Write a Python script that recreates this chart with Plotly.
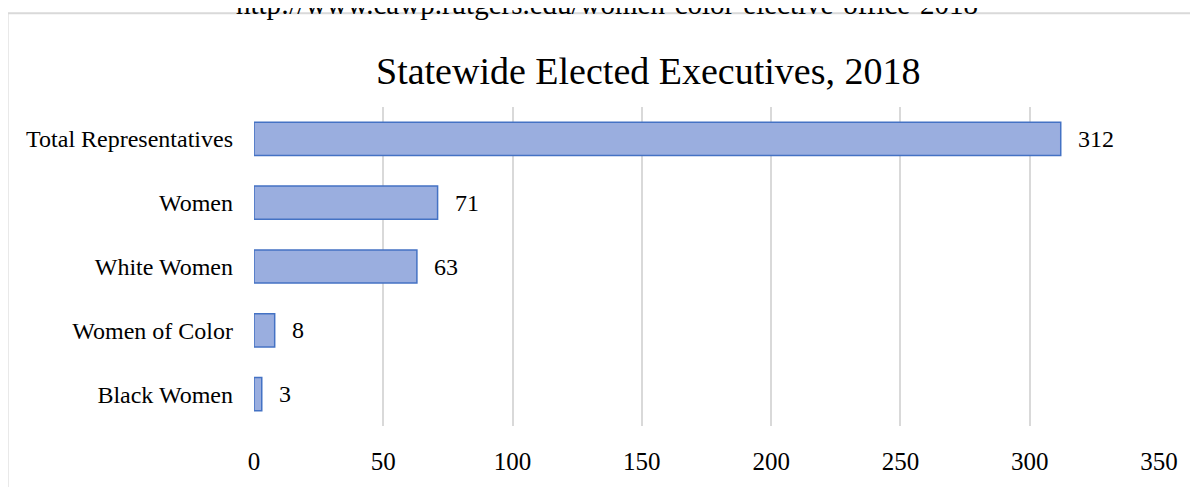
import plotly.graph_objects as go

categories = ["Total Representatives", "Women", "White Women", "Women of Color", "Black Women"]
values = [312, 71, 63, 8, 3]
x_ticks = [0, 50, 100, 150, 200, 250, 300, 350]

FONT = "Liberation Serif, Times New Roman, serif"

fig = go.Figure()
fig.add_trace(go.Bar(
    y=categories, x=values, orientation="h",
    marker=dict(color="#9aaedf", line=dict(color="#4472c4", width=1.5)),
    width=0.52, hoverinfo="x+y",
))

for c, v in zip(categories, values):
    fig.add_annotation(x=v, y=c, text=str(v), showarrow=False, xanchor="left",
                       xshift=15, font=dict(family=FONT, size=24, color="#000"))

fig.add_annotation(xref="paper", yref="paper", x=0.4354, y=1.114, text="Statewide Elected Executives, 2018",
                   showarrow=False, xanchor="center", yanchor="middle",
                   font=dict(family=FONT, size=38, color="#000"))
fig.add_annotation(xref="paper", yref="paper", x=0.390, y=1.323,
                   text="http://www.cawp.rutgers.edu/women-color-elective-office-2018",
                   showarrow=False, xanchor="center", yanchor="middle",
                   font=dict(family=FONT, size=29, color="#000"))

fig.add_shape(type="line", xref="paper", yref="paper", x0=-0.2723, x1=-0.2723, y0=-0.3, y1=1.2935,
              line=dict(color="#d9d9d9", width=2))
fig.add_shape(type="line", xref="paper", yref="paper", x0=-0.2723, x1=1.1, y0=1.2935, y1=1.2935,
              line=dict(color="#d9d9d9", width=2))

fig.update_layout(
    width=1190, height=479,
    margin=dict(l=246, r=39, t=99, b=51),
    paper_bgcolor="white", plot_bgcolor="white",
    showlegend=False,
    font=dict(family=FONT, size=24, color="#000"),
    xaxis=dict(range=[0, 350], tickvals=x_ticks, showgrid=True, gridcolor="#d9d9d9", gridwidth=1.5,
               zeroline=False, showline=False, ticks="", ticklabelstandoff=18,
               tickfont=dict(family=FONT, size=25, color="#000")),
    yaxis=dict(autorange="reversed", showgrid=False, zeroline=False, showline=False, ticks="",
               ticklabelstandoff=20, tickfont=dict(family=FONT, size=24, color="#000")),
)

fig.write_html("out.html")
